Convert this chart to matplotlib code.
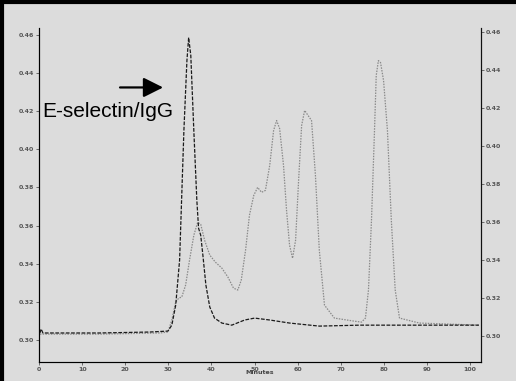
import matplotlib
matplotlib.use('Agg')
import matplotlib.pyplot as plt
from matplotlib.lines import Line2D

# E-selectin/IgG trace (minutes, absorbance)
sample_t = [0.2, 0.5, 0.9, 14.1, 25.7, 29.9, 30.8, 31.7, 32.6, 33.6, 34.3, 34.7, 35.2, 35.9,
            36.6, 37.0, 37.5, 38.0, 38.7, 39.6, 40.7, 42.4, 44.7, 47.7, 50.0, 53.5, 58.1,
            65.0, 74.3, 83.6, 102.0]
sample_v = [0.3037, 0.3058, 0.3037, 0.3037, 0.3042, 0.3047, 0.3078, 0.3183, 0.3418, 0.4098,
            0.4464, 0.4585, 0.4491, 0.4098, 0.3732, 0.3586, 0.3549, 0.3445, 0.3288, 0.3173,
            0.3115, 0.3089, 0.3078, 0.3105, 0.3115, 0.3105, 0.3089, 0.3073, 0.3078, 0.3078,
            0.3078]

# molecular weight standards trace
std_t = [0.2, 14.1, 28.0, 29.9, 30.8, 31.7, 32.4, 33.1, 34.0, 34.9, 35.9, 36.8, 37.5, 38.4,
         39.6, 40.9, 42.4, 43.8, 45.1, 46.1, 46.9, 47.9, 48.8, 49.8, 50.7, 51.6, 52.5, 53.5,
         54.4, 55.1, 55.8, 56.7, 57.4, 58.1, 58.8, 59.5, 60.2, 60.9, 61.6, 63.2, 64.1, 65.0,
         66.2, 68.5, 73.1, 74.8, 75.7, 76.4, 77.1, 77.8, 78.2, 78.7, 79.2, 79.9, 80.8, 81.7,
         82.6, 83.6, 88.2, 102.0]
std_v = [0.3031, 0.3031, 0.3037, 0.3042, 0.3105, 0.3199, 0.3220, 0.3225, 0.3288, 0.3418,
         0.3549, 0.3617, 0.3606, 0.3523, 0.3445, 0.3408, 0.3377, 0.3330, 0.3272, 0.3262,
         0.3314, 0.3471, 0.3654, 0.3758, 0.3800, 0.3774, 0.3784, 0.3915, 0.4098, 0.4150,
         0.4108, 0.3915, 0.3680, 0.3497, 0.3429, 0.3523, 0.3837, 0.4124, 0.4203, 0.4150,
         0.3863, 0.3471, 0.3183, 0.3115, 0.3099, 0.3094, 0.3115, 0.3262, 0.3628, 0.4098,
         0.4386, 0.4464, 0.4454, 0.4360, 0.4098, 0.3628, 0.3262, 0.3115, 0.3089, 0.3078]

xticks = list(range(0, 101, 10))
yticks = [0.30, 0.32, 0.34, 0.36, 0.38, 0.40, 0.42, 0.44, 0.46]

bg = '#dcdcdc'
fig = plt.figure(figsize=(5.16, 3.81), dpi=100, facecolor=bg)
ax = fig.add_axes([0.0756, 0.0499, 0.8566, 0.8766])
ax.set_facecolor(bg)

ax.plot(std_t, std_v, color='#8a8a8a', lw=0.9, ls=(0, (1.2, 1.0)))
ax.plot(sample_t, sample_v, color='#1a1a1a', lw=0.9, ls=(0, (3.0, 1.2)))

ax.set_xlim(0, 102.5)
ax.set_ylim(0.2885, 0.4635)
ax.set_xticks(xticks)
ax.set_yticks(yticks)
ax.set_yticklabels([f'{v:.2f}' for v in yticks])
ax.tick_params(labelsize=4.5, length=2, width=0.6, pad=1.5, colors='#555555')
for lab in ax.get_xticklabels() + ax.get_yticklabels():
    lab.set_fontweight('bold')
ax.set_xlabel('Minutes', fontsize=4.5, fontweight='bold', color='#444444', labelpad=-1)
ax.spines['top'].set_visible(False)
ax.spines['left'].set_color('#111111')
ax.spines['bottom'].set_color('#3d5a55')
ax.spines['right'].set_color('#111111')

ax2 = ax.twinx()
ax2.set_ylim(0.2863, 0.4621)
ax2.set_yticks(yticks)
ax2.set_yticklabels([f'{v:.2f}' for v in yticks])
ax2.tick_params(labelsize=4.5, length=2, width=0.6, pad=1.5, colors='#555555')
for lab in ax2.get_yticklabels():
    lab.set_fontweight('bold')
ax2.spines['top'].set_visible(False)
ax2.spines['right'].set_color('#111111')

ax.text(0.007, 0.75, 'E-selectin/IgG', transform=ax.transAxes, fontsize=15,
        family='Liberation Sans', color='black', va='center', ha='left')
ax.annotate('', xy=(0.287, 0.822), xytext=(0.177, 0.822), xycoords='axes fraction',
            arrowprops=dict(arrowstyle='-|>,head_length=1.2,head_width=0.6', color='black', lw=1.6))

# scan frame on the top and left edges
fig.add_artist(Line2D([0, 1], [0.996, 0.996], transform=fig.transFigure, color='black', lw=3))
fig.add_artist(Line2D([0.003, 0.003], [0, 1], transform=fig.transFigure, color='black', lw=3))

fig.savefig('out.png', dpi=100, facecolor=bg)
